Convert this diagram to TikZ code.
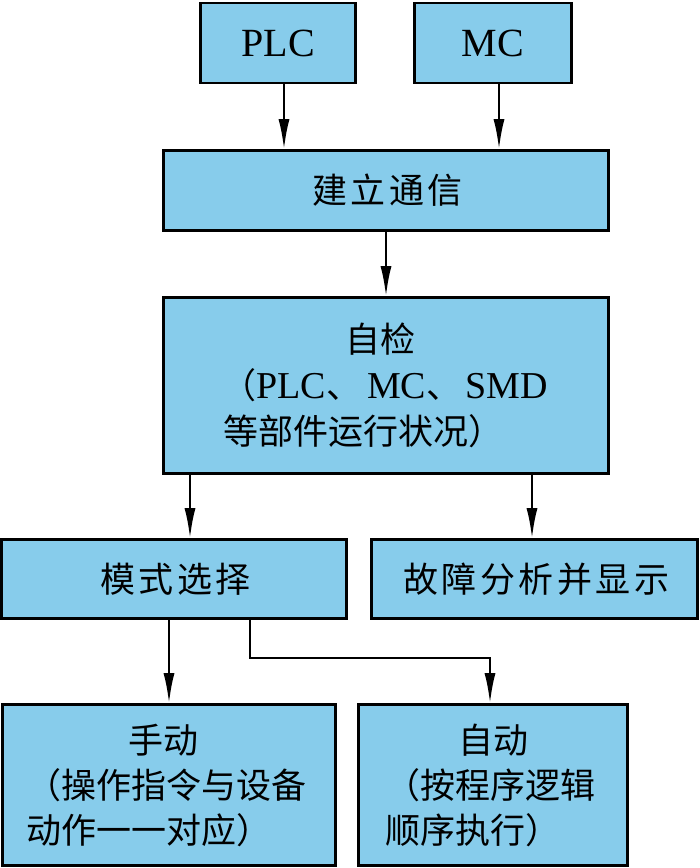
\documentclass[tikz,border=0pt]{standalone}
\usepackage{fontspec}
\setmainfont{Liberation Serif}
\newfontfamily\cjk{Noto Sans CJK SC}
\newfontfamily\cjksp[LetterSpace=10]{Noto Sans CJK SC}
\usetikzlibrary{arrows.meta,positioning,calc}
\definecolor{boxblue}{RGB}{135,204,235}
\newcommand{\lat}[1]{{\rmfamily\fontsize{38}{45}\selectfont #1}}
\tikzset{
  box/.style={draw=black, line width=2.6pt, fill=boxblue, inner sep=0pt, font=\cjk\fontsize{35}{45}\selectfont},
  spaced/.style={font=\cjksp\fontsize{35}{45}\selectfont},
  latbox/.style={font=\rmfamily\fontsize{40}{45}\selectfont},
  arr/.style={line width=2.2pt, -{Latex[length=30pt,width=11pt]}}
}
\begin{document}
\begin{tikzpicture}[x=1pt,y=-1pt]
\useasboundingbox (0,0) rectangle (700,868);
\node[box, latbox, minimum width=155pt, minimum height=80pt] (plc) at (278,43) {PLC};
\node[box, latbox, minimum width=157pt, minimum height=80pt] (mc) at (493,43) {MC};
\node[box, spaced, minimum width=445pt, minimum height=80pt] (comm) at (386,190.5) {\hspace*{3.5pt}建立通信};
\node[box, minimum width=445pt, minimum height=176pt, text width=325pt, align=left] (check) at (386,385.5)
  {\makebox[\linewidth][c]{\hspace*{-12pt}自检}\\[1pt]
   \makebox[\linewidth][l]{\hspace*{-2pt}（\lat{PLC}、\hspace{6pt}\lat{MC}、\hspace{4pt}\lat{SMD}}\\[1pt]
   等部件运行状况）};
\node[box, spaced, minimum width=345pt, minimum height=79pt] (mode) at (174,579) {\hspace*{3.5pt}模式选择};
\node[box, spaced, minimum width=326pt, minimum height=79pt] (fault) at (534.5,579) {\hspace*{3.5pt}故障分析并显示};
\node[box, minimum width=333pt, minimum height=161pt, text width=285pt, align=left] (manual) at (169,785)
  {\makebox[\linewidth][c]{\hspace*{-10pt}手动}\\（操作指令与设备\\动作一一对应）};
\node[box, minimum width=269pt, minimum height=161pt, text width=215pt, align=left] (auto) at (493,785)
  {\makebox[\linewidth][c]{自动}\\（按程序逻辑\\顺序执行）};
\draw[arr] ([xshift=6pt]plc.south) -- ([xshift=6pt]plc.south |- comm.north);
\draw[arr] ([xshift=6pt]mc.south) -- ([xshift=6pt]mc.south |- comm.north);
\draw[arr] (comm.south) -- (check.north);
\draw[arr] ([xshift=-196pt]check.south) -- ([xshift=-196pt]check.south |- mode.north);
\draw[arr] ([xshift=146pt]check.south) -- ([xshift=146pt]check.south |- fault.north);
\draw[arr] (manual.north |- mode.south) -- (manual.north);
\draw[arr] ([xshift=76pt]mode.south) -- ++(0,38) -| ([xshift=-3pt]auto.north);
\end{tikzpicture}
\end{document}
